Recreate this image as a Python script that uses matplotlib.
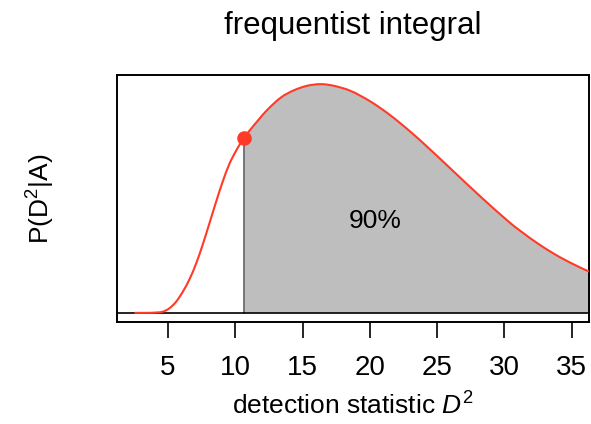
import matplotlib
matplotlib.use("Agg")
import matplotlib.pyplot as plt
from matplotlib.path import Path
from matplotlib.patches import PathPatch
import numpy as np

plt.rcParams["font.family"] = ["Liberation Sans", "DejaVu Sans"]
plt.rcParams["mathtext.fontset"] = "custom"
plt.rcParams["mathtext.rm"] = "Liberation Sans"
plt.rcParams["mathtext.it"] = "Liberation Sans:italic"

# Sampling distribution of the detection statistic (peak-normalised density)
d2 = [2.5, 3.5, 4.0, 4.6, 5.1, 5.6, 6.1, 6.6, 7.1, 7.55, 8.05, 8.55, 9.05,
      9.55, 10.05, 10.64, 11.65, 12.4, 13.4, 14.35, 15.35, 16.35, 17.3,
      18.55, 20.05, 21.5, 23.0, 24.4, 26.0, 28.2, 30.3, 31.2, 32.7, 34.15,
      35.65, 36.3, 37.0]
density = [0.0, 0.0, 0.001, 0.005, 0.02, 0.049, 0.093, 0.148, 0.218, 0.294,
           0.387, 0.482, 0.572, 0.650, 0.708, 0.765, 0.839, 0.889, 0.942,
           0.973, 0.993, 1.0, 0.993, 0.971, 0.924, 0.865, 0.793, 0.719,
           0.631, 0.510, 0.400, 0.358, 0.295, 0.243, 0.198, 0.181, 0.164]
threshold = 10.64
area_label = "90%"
xticks = [5, 10, 15, 20, 25, 30, 35]

x = np.array(d2)
y = np.array(density)
x_lo, x_hi = 2.5, 35.0
pad = 0.04 * (x_hi - x_lo)
RED = "#FF3B28"


def smooth_path(xs, ys):
    """Cubic Hermite (Bezier) path through the given points."""
    n = len(xs)
    m = np.empty(n)
    m[1:-1] = (ys[2:] - ys[:-2]) / (xs[2:] - xs[:-2])
    m[0] = (ys[1] - ys[0]) / (xs[1] - xs[0])
    m[-1] = (ys[-1] - ys[-2]) / (xs[-1] - xs[-2])
    verts = [(xs[0], ys[0])]
    codes = [Path.MOVETO]
    for i in range(n - 1):
        h = (xs[i + 1] - xs[i]) / 3.0
        verts += [(xs[i] + h, ys[i] + h * m[i]),
                  (xs[i + 1] - h, ys[i + 1] - h * m[i + 1]),
                  (xs[i + 1], ys[i + 1])]
        codes += [Path.CURVE4] * 3
    return verts, codes


fig = plt.figure(figsize=(5.91, 4.24), dpi=100)
ax = fig.add_axes([117 / 591, 102 / 424, 472 / 591, 247 / 424])

# shaded upper tail beyond the threshold
mask = x >= threshold
tv, tc = smooth_path(x[mask], y[mask])
tv = tv + [(x[mask][-1], 0.0), (x[mask][0], 0.0), tv[0]]
tc = tc + [Path.LINETO, Path.LINETO, Path.CLOSEPOLY]
ax.add_patch(PathPatch(Path(tv, tc), facecolor="#BEBEBE", edgecolor="none",
                       zorder=1))

thr_y = y[np.argmin(np.abs(x - threshold))]
ax.plot([threshold, threshold], [0, thr_y], color="#6E6E6E", lw=1.3, zorder=2)
ax.axhline(0, color="black", lw=1.2, zorder=2)

cv, cc = smooth_path(x, y)
ax.add_patch(PathPatch(Path(cv, cc), facecolor="none", edgecolor=RED,
                       lw=1.5, zorder=3))
ax.plot([threshold], [thr_y], "o", color=RED, ms=10.5, mec="none", zorder=4)
ax.text(20.4, 0.40, area_label, ha="center", va="center", fontsize=19)

ax.set_xlim(x_lo - pad, x_hi + pad)
ax.set_ylim(-0.04, 1.04)
ax.set_xticks(xticks)
ax.set_xticklabels([str(t) for t in xticks])
ax.set_yticks([])
ax.tick_params(axis="x", length=11.5, width=1.2, pad=12, labelsize=20)
for s in ax.spines.values():
    s.set_linewidth(1.4)

fig.text(353 / 591, 1 - 415 / 424, "detection statistic $D^2$",
         ha="center", va="baseline", fontsize=19)
fig.text(40.5 / 591, 1 - 198.5 / 424, "P(D$^2$|A)", rotation=90,
         ha="center", va="center", fontsize=19)
fig.text(353 / 591, 1 - 34 / 424, "frequentist integral", ha="center",
         va="baseline", fontsize=22.5)

fig.savefig("out.png", dpi=100)
